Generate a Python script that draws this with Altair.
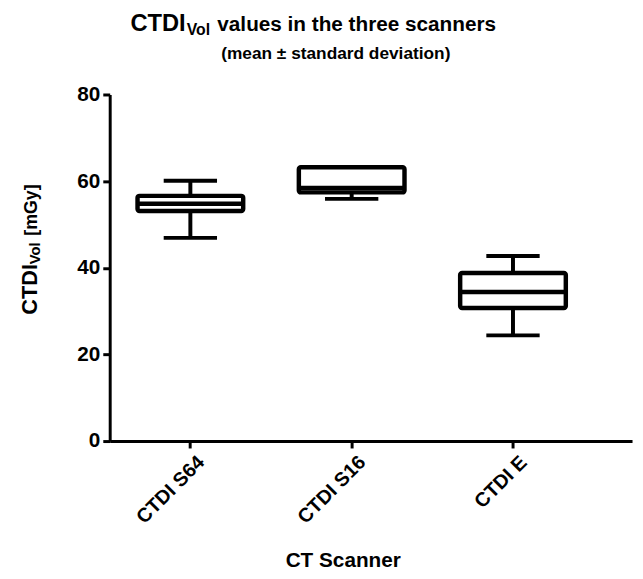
import altair as alt
import pandas as pd

# ---- data ----
scanners = ["CTDI S64", "CTDI S16", "CTDI E"]
whisker_low = [46.9, 55.9, 24.4]
q1 = [53.1, 57.4, 30.7]
median = [54.8, 58.4, 34.4]
q3 = [56.6, 63.2, 38.8]
whisker_high = [60.1, 63.2, 42.7]
y_ticks = [0, 20, 40, 60, 80]

title_main = ["CTDI", "Vol", "values in the three scanners"]
subtitle = ["(mean \u00b1 standard deviation)"]
y_title = ["CTDI", "Vol", "[mGy]"]
x_title = "CT Scanner"

df = pd.DataFrame(dict(scanner=scanners, lo=whisker_low, q1=q1, med=median,
                       q3=q3, hi=whisker_high))

FONT = "Liberation Sans"
W, H = 529, 351

xscale = alt.Scale(domain=scanners, paddingInner=0, paddingOuter=0.119, align=0)
yscale = alt.Scale(domain=[0, 80], nice=False)

x_enc = alt.X("scanner:N", scale=xscale, sort=scanners,
              axis=alt.Axis(labelAngle=-45, labelFont=FONT, labelFontSize=20,
                            labelFontWeight="bold", labelColor="black",
                            tickSize=7, tickWidth=3, tickColor="black",
                            domainWidth=3, domainColor="black", labelPadding=4,
                            labelOffset=4,
                            title=x_title, titleFont=FONT, titleFontSize=21,
                            titleFontWeight="bold", titleColor="black",
                            titleX=236, titleY=127, titleBaseline="alphabetic",
                            titleAnchor="start", titleAlign="center"))
y_enc_axis = alt.Axis(values=y_ticks, labelFont=FONT, labelFontSize=21,
                      labelFontWeight="bold", labelColor="black",
                      tickSize=7, tickWidth=3, tickColor="black",
                      domainWidth=3, domainColor="black", labelPadding=3,
                      grid=False, title=None)

base = alt.Chart(df)

whisk_lo = base.mark_rule(color="black", strokeWidth=4, opacity=1).encode(
    x=x_enc, y=alt.Y("lo:Q", scale=yscale, axis=y_enc_axis), y2="q1:Q")
whisk_hi = base.mark_rule(color="black", strokeWidth=4, opacity=1).encode(
    x=x_enc, y=alt.Y("q3:Q", scale=yscale, axis=y_enc_axis), y2="hi:Q")
cap_lo = base.mark_tick(color="black", size=54, thickness=4, opacity=1).encode(
    x=x_enc, y=alt.Y("lo:Q", scale=yscale, axis=y_enc_axis))
cap_hi = base.mark_tick(color="black", size=54, thickness=4, opacity=1).encode(
    x=x_enc, y=alt.Y("hi:Q", scale=yscale, axis=y_enc_axis))
box = base.mark_bar(size=107, fill="white", stroke="black", strokeWidth=4.5,
                    cornerRadius=2, strokeJoin="round", opacity=1).encode(
    x=x_enc, y=alt.Y("q1:Q", scale=yscale, axis=y_enc_axis), y2="q3:Q")
med = base.mark_tick(color="black", size=107, thickness=4.5, opacity=1).encode(
    x=x_enc, y=alt.Y("med:Q", scale=yscale, axis=y_enc_axis))


def txt(s, x, y, size, align="left", angle=0, weight="bold"):
    return alt.Chart(pd.DataFrame({"t": [s]})).mark_text(
        font=FONT, fontSize=size, fontWeight=weight, color="black",
        align=align, baseline="alphabetic", angle=angle).encode(
        text="t:N", x=alt.value(x), y=alt.value(y))


texts = [
    txt(title_main[0], 21, -64, 24),
    txt(title_main[1], 78, -60, 16),
    txt(title_main[2], 109, -64, 21),
    txt(subtitle[0], 229, -36, 17.5, align="center"),
    txt(y_title[0], -74, 223, 22, angle=270),
    txt(y_title[1], -71, 172, 15, angle=270),
    txt(y_title[2], -74, 143, 18, angle=270),
]

chart = alt.layer(whisk_lo, whisk_hi, cap_lo, cap_hi, box, med, *texts).properties(
    width=W, height=H,
    autosize=alt.AutoSizeParams(type="none"),
    padding={"left": 103, "top": 84, "right": 3, "bottom": 128},
).configure_view(stroke=None)

chart.save("out.html", embed_options={"renderer": "svg", "actions": False})
